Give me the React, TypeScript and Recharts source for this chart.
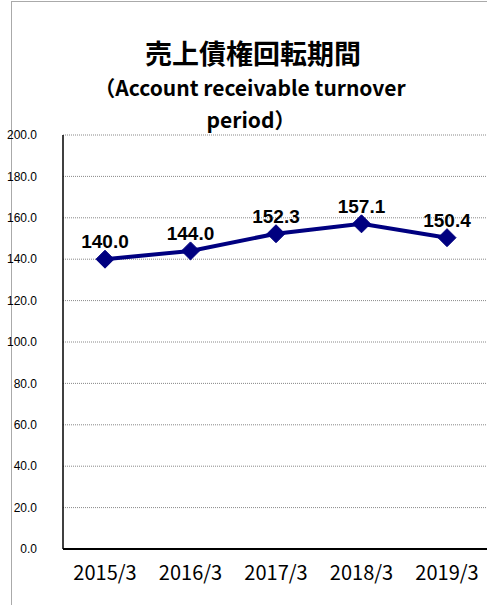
import React from 'react';
import { LineChart, Line, XAxis, YAxis, CartesianGrid, LabelList } from 'recharts';

const categories = ['2015/3', '2016/3', '2017/3', '2018/3', '2019/3'];
const values = [140.0, 144.0, 152.3, 157.1, 150.4];
const yTicks = [0, 20, 40, 60, 80, 100, 120, 140, 160, 180, 200];
const titleText = '売上債権回転期間';
const subtitleLine1 = '（Account receivable turnover';
const subtitleLine2 = 'period）';

const data = categories.map((c, i) => ({ name: c, value: values[i] }));

const Diamond = (props: any) => {
  const { cx, cy } = props;
  if (cx == null || cy == null) return null;
  const r = 9;
  return (
    <polygon
      points={`${cx},${cy - r} ${cx + r},${cy} ${cx},${cy + r} ${cx - r},${cy}`}
      fill="#000080"
      stroke="#000080"
    />
  );
};

const jp = '"Noto Sans CJK JP", sans-serif';

export default function App() {
  return (
    <div style={{ position: 'absolute', left: 0, top: 0, width: 487, height: 605, overflow: 'hidden', background: '#fff' }}>
      <div style={{ position: 'absolute', left: 11, top: 1, width: 500, height: 620, borderLeft: '1px solid #aaa', borderTop: '1px solid #aaa' }} />
      <div style={{ position: 'absolute', left: 253, top: 37, transform: 'translateX(-50%)', whiteSpace: 'nowrap', fontFamily: jp, fontWeight: 'bold', fontSize: 27, lineHeight: '32px' }}>
        {titleText}
      </div>
      <div style={{ position: 'absolute', left: 250, top: 74, transform: 'translateX(-50%)', whiteSpace: 'nowrap', fontFamily: jp, fontWeight: 'bold', fontSize: 21, lineHeight: '26px' }}>
        {subtitleLine1}
      </div>
      <div style={{ position: 'absolute', left: 251, top: 106, transform: 'translateX(-50%)', whiteSpace: 'nowrap', fontFamily: jp, fontWeight: 'bold', fontSize: 21, lineHeight: '26px' }}>
        {subtitleLine2}
      </div>
      <div style={{ position: 'absolute', left: 0, top: 0 }}>
        <LineChart width={491} height={605} data={data} margin={{ top: 135, right: 0, left: 0, bottom: 26 }}>
          <CartesianGrid vertical={false} stroke="#888" strokeDasharray="1 1" />
          <XAxis
            dataKey="name"
            height={30}
            padding={{ left: 42, right: 44 }}
            tickLine={false}
            tickSize={0}
            tickMargin={17}
            axisLine={{ stroke: '#000', strokeWidth: 2 }}
            tick={{ fill: '#000', fontSize: 20, fontFamily: jp }}
            interval={0}
          />
          <YAxis
            width={63}
            domain={[0, 200]}
            ticks={yTicks}
            tickFormatter={(v: number) => v.toFixed(1)}
            tickLine={false}
            tickSize={0}
            tickMargin={26}
            axisLine={{ stroke: '#000', strokeWidth: 1.5 }}
            tick={{ fill: '#000', fontSize: 12, fontFamily: 'Liberation Sans, Arial, sans-serif' }}
            interval={0}
          />
          <Line
            type="linear"
            dataKey="value"
            stroke="#000080"
            strokeWidth={4}
            dot={<Diamond />}
            activeDot={false}
            isAnimationActive={false}
          >
            <LabelList
              dataKey="value"
              position="top"
              offset={11}
              formatter={(v: number) => v.toFixed(1)}
              style={{ fill: '#000', fontSize: 19, fontWeight: 'bold', fontFamily: 'Liberation Sans, Arial, sans-serif' }}
            />
          </Line>
        </LineChart>
      </div>
    </div>
  );
}
